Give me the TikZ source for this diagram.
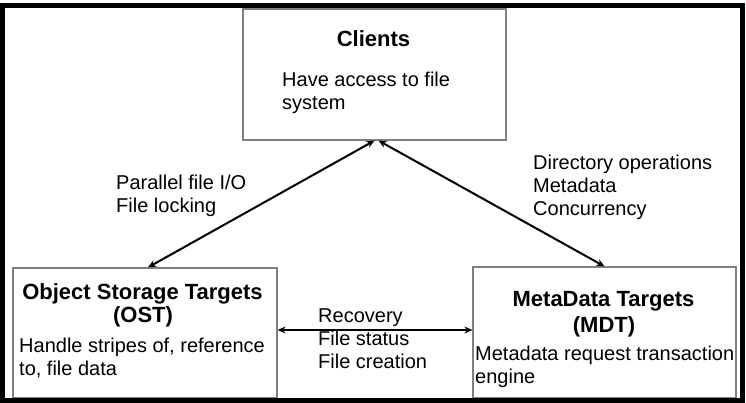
\documentclass[tikz,border=0pt]{standalone}
\usepackage{fontspec}
\setmainfont{Liberation Sans}
\usetikzlibrary{arrows.meta}
\begin{document}
\begin{tikzpicture}[x=1pt,y=-1pt,
  box/.style={draw=black!50, line width=1.2pt, fill=none, inner sep=0pt},
  body/.style={font=\fontsize{20}{23}\selectfont, inner sep=0pt, anchor=base west},
  title/.style={font=\fontsize{22}{25}\selectfont\bfseries, inner sep=0pt, anchor=base},
  link/.style={{Stealth[length=8pt,width=7pt]}-{Stealth[length=8pt,width=7pt]}, line width=2pt}]
\useasboundingbox (0,0) rectangle (746,403);

% the three components
\node[box, minimum width=263pt, minimum height=131pt] (clients) at (374.5,74.5) {};
\node[box, minimum width=264pt, minimum height=130pt] (ost) at (145,333) {};
\node[box, minimum width=263pt, minimum height=131pt] (mdt) at (604.5,332.5) {};

% Clients
\node[title] (clientsT) at (373.5,47) {Clients};
\node[body] (clientsA) at (282,87) {Have access to file};
\node[body] (clientsB) at (282,110) {system};

% OST
\node[title] (ostT) at (142.5,299) {Object Storage Targets};
\node[title] (ostS) at (143,322) {(OST)};
\node[body] (ostA) at (19,352) {Handle stripes of, reference};
\node[body] (ostB) at (19,375) {to, file data};

% MDT
\node[title] (mdtT) at (603.5,306) {MetaData Targets};
\node[title] (mdtS) at (604,332) {(MDT)};
\node[body] (mdtA) at (475,360) {Metadata request transaction};
\node[body] (mdtB) at (475,383) {engine};

% connectors
\draw[link] (clients.south) -- ([xshift=3pt]ost.north);
\draw[link] ([xshift=4pt]clients.south) -- (mdt.north);
\draw[link] ([yshift=3pt]ost.east) -- ([yshift=2.5pt]mdt.west);

% connector labels
\node[body] (lblA) at (116,190) {Parallel file I/O};
\node[body] (lblB) at (116,213) {File locking};
\node[body] (lblC) at (533,170) {Directory operations};
\node[body] (lblD) at (533,193) {Metadata};
\node[body] (lblE) at (533,216) {Concurrency};
\node[body] (lblF) at (318,322) {Recovery};
\node[body] (lblG) at (318,345) {File status};
\node[body] (lblH) at (318,368) {File creation};

% outer frame
\draw[line width=5pt] (2.5,5.5) rectangle (742.5,400);
\end{tikzpicture}
\end{document}
